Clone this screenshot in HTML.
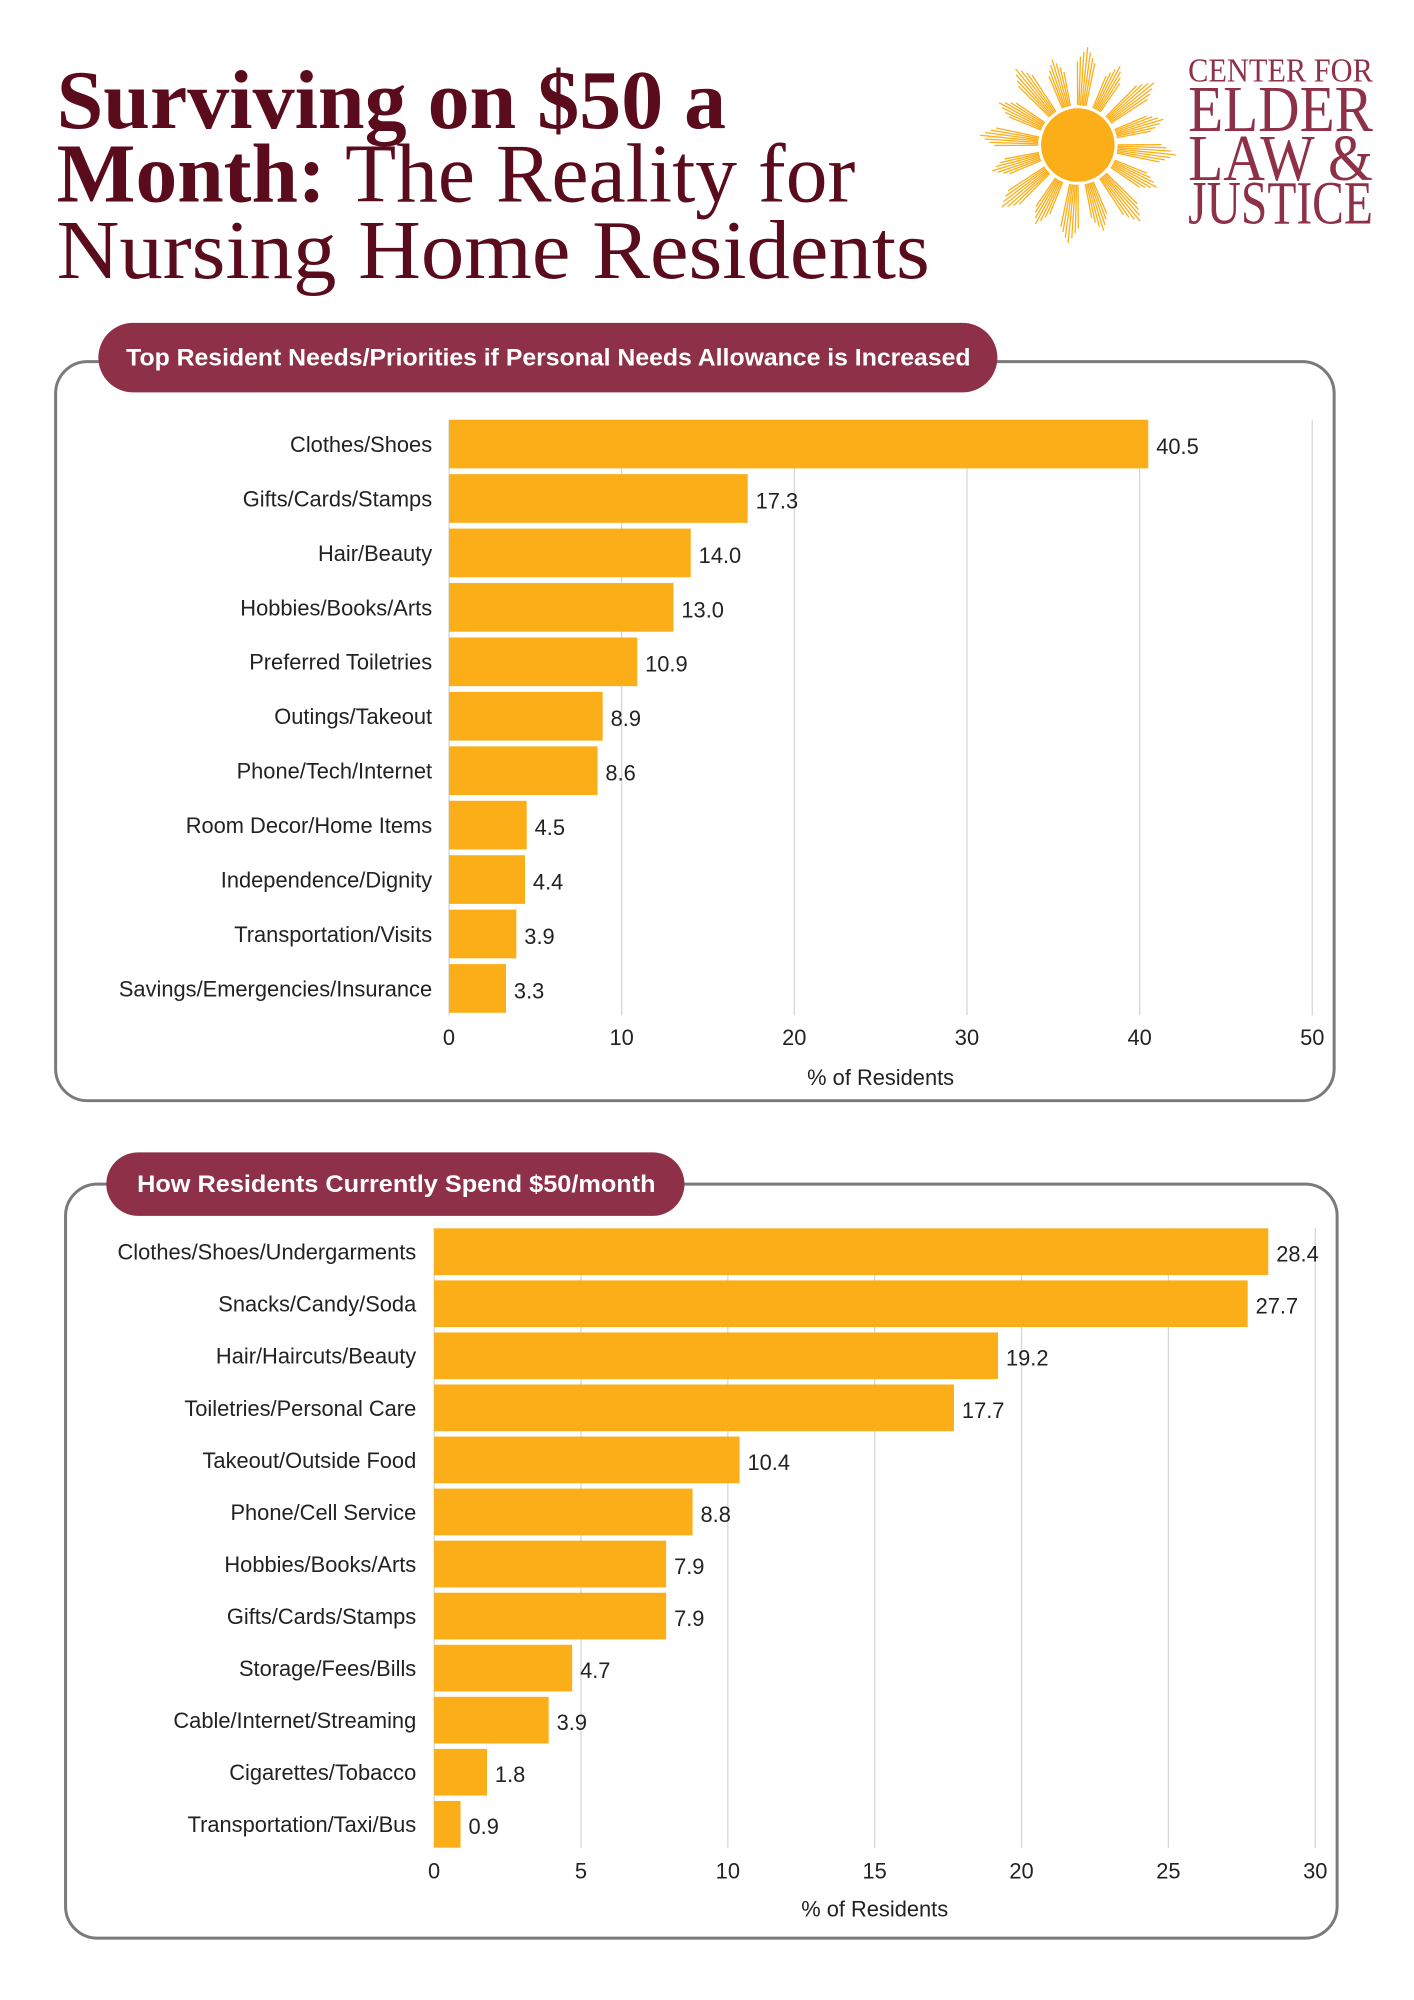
<!DOCTYPE html>
<html><head><meta charset="utf-8"><style>
html,body{margin:0;padding:0;background:#fff;}
svg{display:block;}
.t{font-family:"Liberation Serif",serif;fill:#5a0b1c;}
.lbl{font-family:"Liberation Sans",sans-serif;font-size:22px;fill:#222;}
.val{font-family:"Liberation Sans",sans-serif;font-size:22px;fill:#222;}
.tick{font-family:"Liberation Sans",sans-serif;font-size:22px;fill:#222;}
.pill{font-family:"Liberation Sans",sans-serif;font-weight:bold;font-size:24px;fill:#fff;}
.logo{font-family:"Liberation Serif",serif;fill:#8e3148;}
</style></head><body>
<svg id="root" width="1414" height="2000" viewBox="0 0 1414 2000" xmlns="http://www.w3.org/2000/svg">
<g transform="scale(0.9934)">
 <g>
  <text class="t" x="57" y="129" font-size="84" font-weight="bold" textLength="674" lengthAdjust="spacingAndGlyphs">Surviving on $50 a</text>
  <text class="t" x="57" y="203" font-size="84" textLength="804" lengthAdjust="spacingAndGlyphs"><tspan font-weight="bold">Month:</tspan> The Reality for</text>
  <text class="t" x="57" y="280" font-size="84" textLength="879" lengthAdjust="spacingAndGlyphs">Nursing Home Residents</text>
 </g>
 <g>
  <g id="sun"></g>
  <text class="logo" x="1196" y="82" font-size="34" textLength="186" lengthAdjust="spacingAndGlyphs">CENTER FOR</text>
  <text class="logo" x="1196" y="132" font-size="66" textLength="186" lengthAdjust="spacingAndGlyphs">ELDER</text>
  <text class="logo" x="1196" y="181" font-size="66" textLength="186" lengthAdjust="spacingAndGlyphs">LAW &amp;</text>
  <text class="logo" x="1196" y="225" font-size="62" textLength="186" lengthAdjust="spacingAndGlyphs">JUSTICE</text>
 </g>
 <g>
  <rect x="56" y="364" width="1287" height="744" rx="32" fill="none" stroke="#7a7a7a" stroke-width="3"/>
  <rect x="99" y="325" width="905" height="70" rx="35" fill="#8e3148"/>
  <text class="pill" x="127" y="368" textLength="850" lengthAdjust="spacingAndGlyphs">Top Resident Needs/Priorities if Personal Needs Allowance is Increased</text>
  <g id="c1"></g>
 </g>
 <g>
  <rect x="66" y="1192" width="1280" height="759" rx="32" fill="none" stroke="#7a7a7a" stroke-width="3"/>
  <rect x="107" y="1160" width="582" height="64" rx="32" fill="#8e3148"/>
  <text class="pill" x="138" y="1200" textLength="522" lengthAdjust="spacingAndGlyphs">How Residents Currently Spend $50/month</text>
  <g id="c2"></g>
 </g>
</g>
</svg>
<script>
const cats1 = ["Clothes/Shoes","Gifts/Cards/Stamps","Hair/Beauty","Hobbies/Books/Arts","Preferred Toiletries","Outings/Takeout","Phone/Tech/Internet","Room Decor/Home Items","Independence/Dignity","Transportation/Visits","Savings/Emergencies/Insurance"];
const vals1 = [40.5,17.3,14.0,13.0,10.9,8.9,8.6,4.5,4.4,3.9,3.3];
const ticks1 = [0,10,20,30,40,50];
const cats2 = ["Clothes/Shoes/Undergarments","Snacks/Candy/Soda","Hair/Haircuts/Beauty","Toiletries/Personal Care","Takeout/Outside Food","Phone/Cell Service","Hobbies/Books/Arts","Gifts/Cards/Stamps","Storage/Fees/Bills","Cable/Internet/Streaming","Cigarettes/Tobacco","Transportation/Taxi/Bus"];
const vals2 = [28.4,27.7,19.2,17.7,10.4,8.8,7.9,7.9,4.7,3.9,1.8,0.9];
const ticks2 = [0,5,10,15,20,25,30];

const NS="http://www.w3.org/2000/svg";
function mk(parent,tag,attrs){const e=document.createElementNS(NS,tag);for(const k in attrs)e.setAttribute(k,attrs[k]);parent.appendChild(e);return e;}

function chart(g,cats,vals,ticks,o){
  const max=ticks[ticks.length-1];
  const x=v=>o.x0+(o.x1-o.x0)*v/max;
  const y=i=>o.yFirst+i*o.step;
  ticks.forEach(t=>{
    const l=mk(g,'line',{x1:x(t),x2:x(t),y1:o.gTop,y2:o.gBot,stroke:'#d6d6d6','stroke-width':1.3});
    
    
    const tx=mk(g,'text',{x:x(t),y:o.tickY,'text-anchor':'middle',class:'tick'});tx.textContent=t;
    
    
  });
  cats.forEach((c,i)=>{
    const cy=y(i);
    const r=mk(g,'rect',{x:x(0),y:cy-o.bh/2,width:x(vals[i])-x(0),height:o.bh,fill:'#fbae17'});
    
    
    const lt=mk(g,'text',{x:o.lx,y:cy+8,'text-anchor':'end',class:'lbl'});lt.textContent=c;
    
    
    const vt=mk(g,'text',{x:x(vals[i])+8,y:cy+10,class:'val'});vt.textContent=vals[i].toFixed(1);
    
    
  });
  const at=mk(g,'text',{x:(o.x0+o.x1)/2,y:o.titleY,'text-anchor':'middle',class:'tick'});at.textContent='% of Residents';
  
  
}
chart(document.getElementById('c1'),cats1,vals1,ticks1,{x0:452,x1:1321,yFirst:447,step:54.8,bh:49,gTop:423,gBot:1022,tickY:1052,titleY:1092,lx:435});
chart(document.getElementById('c2'),cats2,vals2,ticks2,{x0:437,x1:1324,yFirst:1260,step:52.4,bh:47,gTop:1236,gBot:1860,tickY:1891,titleY:1929,lx:419});

// sun
const sun=document.getElementById('sun');
const cx=1085,cy=146;
for(let b=0;b<16;b++){
  const base=b*Math.PI*2/16+0.1;
  for(let k=-3;k<=3;k++){
    const a=base+k*0.035;
    const len=(b%2?90:99)-Math.abs(k)*5;
    const l=mk(sun,'line',{x1:cx+Math.cos(a)*40,y1:cy+Math.sin(a)*40,x2:cx+Math.cos(a)*len,y2:cy+Math.sin(a)*len,stroke:'#fbae17','stroke-width':1.3});
    
    
  }
}
const d=mk(sun,'circle',{cx:cx,cy:cy,r:37,fill:'#fbae17'});


</script>
</body></html>
